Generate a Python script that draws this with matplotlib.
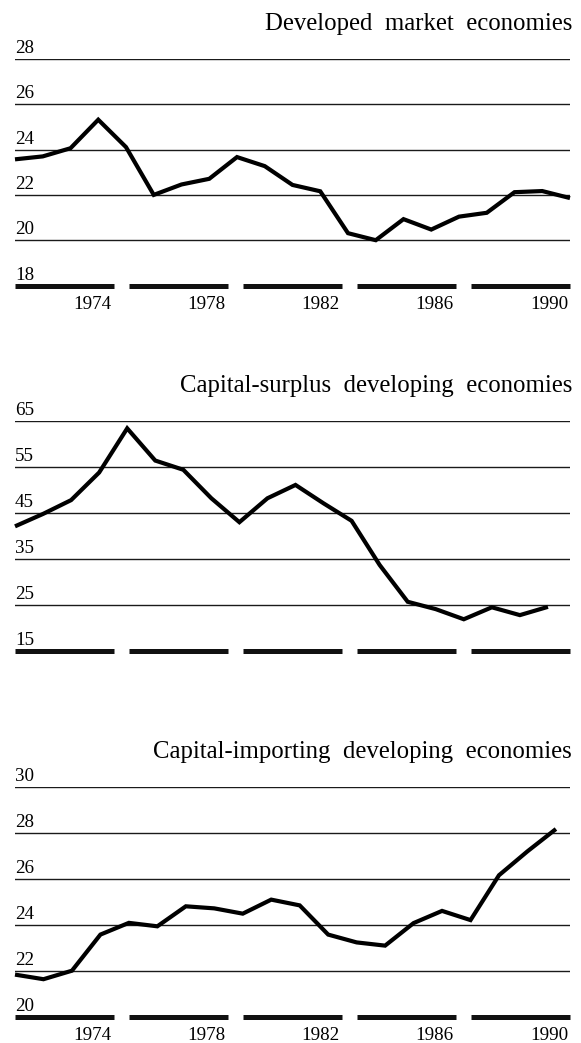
import matplotlib
matplotlib.use('Agg')
import matplotlib.pyplot as plt
import matplotlib.transforms as mtransforms

plt.rcParams['font.family'] = ['Liberation Serif', 'DejaVu Serif']

# ---- data -------------------------------------------------------------
years_developed = list(range(1970, 1991))
years_surplus = list(range(1970, 1990))
years_importing = list(range(1970, 1990))

developed = [23.57, 23.70, 24.06, 25.32, 24.11, 22.00, 22.46, 22.71, 23.67, 23.27,
             22.44, 22.16, 20.31, 20.00, 20.93, 20.47, 21.04, 21.21, 22.12, 22.17,
             21.86]
surplus = [42.1, 44.8, 47.8, 53.8, 63.4, 56.4, 54.4, 48.2, 43.0, 48.2,
           51.1, 47.1, 43.3, 33.7, 25.7, 24.1, 21.9, 24.5, 22.8, 24.6]
importing = [21.83, 21.63, 22.00, 23.57, 24.08, 23.93, 24.80, 24.71, 24.48, 25.09,
             24.84, 23.57, 23.23, 23.09, 24.07, 24.60, 24.20, 26.15, 27.19, 28.16]

ticks_developed = [18, 20, 22, 24, 26, 28]
ticks_surplus = [15, 25, 35, 45, 55, 65]
ticks_importing = [20, 22, 24, 26, 28, 30]

year_labels = ['1974', '1978', '1982', '1986', '1990']

titles = ['Developed  market  economies',
          'Capital-surplus  developing  economies',
          'Capital-importing  developing  economies']

# ---- figure -----------------------------------------------------------
W, H = 581, 1043
fig = plt.figure(figsize=(W / 100, H / 100), dpi=100)

left = 15 / W
width = (570 - 15) / W


def make_axes(top_px, bottom_px):
    return fig.add_axes([left, 1 - bottom_px / H, width, (bottom_px - top_px) / H])


def draw(ax, x, y, yticks, title, xmax, show_years):
    ax.set_xlim(1970, xmax)
    ax.set_ylim(yticks[0], yticks[-1])
    for s in ax.spines.values():
        s.set_visible(False)
    ax.set_xticks([])
    ax.set_yticks([])
    ax.patch.set_alpha(0)
    for v in yticks[1:]:
        ax.axhline(v, color='#1a1a1a', lw=1.0, zorder=1)
    trans = mtransforms.blended_transform_factory(ax.transAxes, ax.transData)
    P, L = 0.2056, 0.1776
    for i in range(5):
        ax.plot([i * P, i * P + L], [yticks[0], yticks[0]], transform=trans,
                color='#111111', lw=3.6, solid_capstyle='butt', clip_on=False)
    for v in yticks:
        ax.annotate(str(v), xy=(0, v), xycoords=trans, xytext=(0, 4.3),
                    textcoords='offset points', ha='left', va='baseline',
                    fontsize=13.7, color='black')
    ax.plot(x, y, color='black', lw=3.0, solid_joinstyle='miter',
            solid_capstyle='butt', clip_on=False, zorder=3)
    ax.annotate(title, xy=(1.0036, yticks[-1]), xycoords=trans,
                xytext=(0, 20.9), textcoords='offset points', ha='right',
                va='baseline', fontsize=17.8, color='black')
    if show_years:
        for i, lab in enumerate(year_labels):
            ax.annotate(lab, xy=(i * P + L, yticks[0]), xycoords=trans,
                        xytext=(-1.4, -17.0), textcoords='offset points',
                        ha='right', va='baseline', fontsize=13.7, color='black')


ax1 = make_axes(59, 285.5)
draw(ax1, years_developed, developed, ticks_developed, titles[0], 1990, True)

ax2 = make_axes(421, 651)
draw(ax2, years_surplus, surplus, ticks_surplus, titles[1], 1970 + 555 / 28.05, False)

ax3 = make_axes(786.7, 1016.7)
draw(ax3, years_importing, importing, ticks_importing, titles[2], 1970 + 555 / 28.47, True)

fig.savefig('out.png', dpi=100)
